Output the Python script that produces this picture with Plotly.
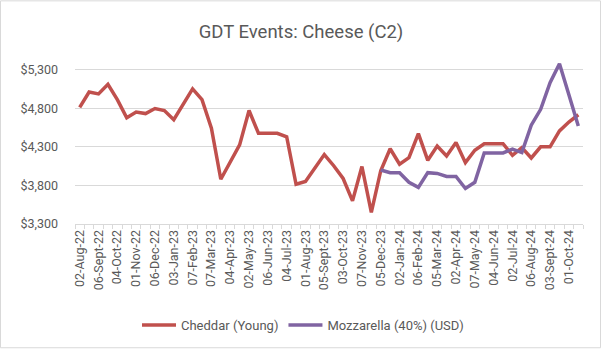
import plotly.graph_objects as go

events = [
    "02-Aug-22", "16-Aug-22", "06-Sept-22", "20-Sept-22", "04-Oct-22", "18-Oct-22",
    "01-Nov-22", "15-Nov-22", "06-Dec-22", "20-Dec-22",
    "03-Jan-23", "17-Jan-23", "07-Feb-23", "21-Feb-23", "07-Mar-23", "21-Mar-23",
    "04-Apr-23", "18-Apr-23", "02-May-23", "16-May-23", "06-Jun-23", "20-Jun-23",
    "04-Jul-23", "18-Jul-23", "01-Aug-23", "15-Aug-23", "05-Sept-23", "19-Sept-23",
    "03-Oct-23", "17-Oct-23", "07-Nov-23", "21-Nov-23", "05-Dec-23", "19-Dec-23",
    "02-Jan-24", "16-Jan-24", "06-Feb-24", "20-Feb-24", "05-Mar-24", "19-Mar-24",
    "02-Apr-24", "16-Apr-24", "07-May-24", "21-May-24", "04-Jun-24", "18-Jun-24",
    "02-Jul-24", "16-Jul-24", "06-Aug-24", "20-Aug-24", "03-Sept-24", "17-Sept-24",
    "01-Oct-24", "15-Oct-24",
]

cheddar = [
    4810, 5010, 4985, 5110, 4910, 4675, 4750, 4730, 4795, 4770,
    4650, 4850, 5050, 4910, 4540, 3880, 4105, 4325, 4770, 4475,
    4475, 4475, 4430, 3815, 3850, 4030, 4200, 4055, 3890, 3600,
    4045, 3450, 3990, 4275, 4075, 4160, 4470, 4125, 4310, 4180,
    4355, 4095, 4255, 4340, 4340, 4340, 4190, 4290, 4155, 4300,
    4300, 4505, 4620, 4715,
]

mozzarella = [None] * 32 + [
    4000, 3965, 3965, 3840, 3775, 3965, 3955, 3915, 3915, 3760,
    3840, 4220, 4220, 4220, 4270, 4225, 4580, 4785, 5130, 5375,
    4975, 4570,
]

tick_labels = [e if i % 2 == 0 else "" for i, e in enumerate(events)]
y_ticks = [3300, 3800, 4300, 4800, 5300]

FONT = "Roboto"
GREY = "#595959"

fig = go.Figure()
fig.add_trace(go.Scatter(x=events, y=cheddar, mode="lines", name="Cheddar (Young)",
                         line=dict(color="#C0504D", width=3.5)))
fig.add_trace(go.Scatter(x=events, y=mozzarella, mode="lines", name="Mozzarella (40%) (USD)",
                         line=dict(color="#8064A2", width=3.5)))

L, R, T, B = 75, 19, 58, 126
W, H = 602, 351
pw, ph = W - L - R, H - T - B

fig.update_layout(
    width=W, height=H,
    margin=dict(l=L, r=R, t=T, b=B),
    paper_bgcolor="white", plot_bgcolor="white",
    font=dict(family=FONT, color=GREY),
    title=dict(text="GDT Events: Cheese (C2)", x=0.5, xanchor="center", y=1 - 32 / H, yanchor="middle",
               font=dict(size=18.5, color=GREY, family=FONT)),
    showlegend=True,
    legend=dict(orientation="h", x=(303 - L) / pw, xanchor="center", y=-(325 - (T + ph)) / ph, yanchor="middle",
                font=dict(size=13, color=GREY), itemwidth=34, bgcolor="rgba(0,0,0,0)"),
    xaxis=dict(type="category", categoryorder="array", categoryarray=events,
               tickmode="array", tickvals=events, ticktext=tick_labels, tickangle=-90,
               tickson="boundaries", ticks="outside", ticklen=4, tickcolor="#D9D9D9",
               showline=True, linecolor="#D9D9D9", linewidth=1, showgrid=False,
               tickfont=dict(size=12.5, color=GREY), range=[-0.5, len(events) - 0.5]),
    yaxis=dict(range=[3300, 5450], tickmode="array", tickvals=y_ticks,
               ticktext=[f"${v:,}" for v in y_ticks], showgrid=True, gridcolor="#D9D9D9",
               gridwidth=1, zeroline=False, showline=False, ticks="",
               ticklabelstandoff=16, tickfont=dict(size=12.5, color=GREY)),
    shapes=[dict(type="rect", xref="paper", yref="paper",
                 x0=(0.5 - L) / pw, x1=(W - 1.5 - L) / pw,
                 y0=-(B - 1.5) / ph, y1=1 + (T - 0.5) / ph,
                 line=dict(color="#D9D9D9", width=1), fillcolor="rgba(0,0,0,0)", layer="below")],
)

fig.write_html("out.html")
